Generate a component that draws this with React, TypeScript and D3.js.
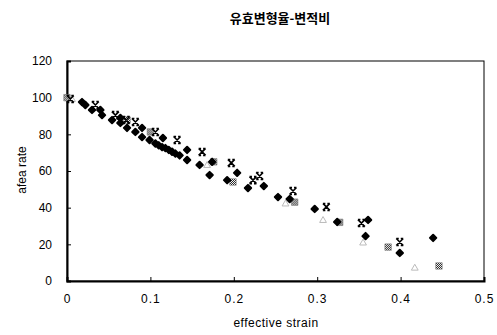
import { useEffect, useRef } from 'react'
import * as d3 from 'd3'

const TITLE = '유효변형율-변적비'
const X_LABEL = 'effective strain'
const Y_LABEL = 'afea rate'
const X_TICKS = [0, 0.1, 0.2, 0.3, 0.4, 0.5]
const Y_TICKS = [0, 20, 40, 60, 80, 100, 120]

// black filled blobs
const diamondPts: [number, number][] = [
  [0.018, 97.6], [0.022, 96], [0.03, 93.3], [0.04, 93.3], [0.042, 90.5],
  [0.054, 87.8], [0.064, 88.9], [0.064, 86.2], [0.072, 83.5], [0.082, 81.3],
  [0.09, 83.5], [0.09, 78.5], [0.099, 76.9], [0.106, 75], [0.11, 74],
  [0.114, 73], [0.118, 72.5], [0.122, 71.5], [0.126, 70.5], [0.13, 69.5],
  [0.135, 68.5], [0.115, 78], [0.144, 71.5], [0.144, 66], [0.159, 63.3],
  [0.171, 57.8], [0.174, 65], [0.192, 55], [0.204, 59], [0.217, 50.7],
  [0.236, 51.8], [0.253, 45.8], [0.267, 44.7], [0.297, 39.3], [0.324, 32.2],
  [0.361, 33.3], [0.358, 24.5], [0.399, 15.3], [0.439, 23.5]
]

// x markers
const crossPts: [number, number][] = [
  [0.004, 99.3], [0.034, 96], [0.058, 90.5], [0.071, 87.8], [0.082, 86.7],
  [0.106, 81.3], [0.132, 76.9], [0.162, 70.4], [0.197, 64.4], [0.223, 55],
  [0.231, 57.3], [0.271, 49.1], [0.311, 40.4], [0.353, 31.6], [0.399, 21.3]
]

// gray hatched squares
const hatchPts: [number, number][] = [
  [0, 100], [0.072, 87.8], [0.1, 81.3], [0.176, 65], [0.199, 54],
  [0.273, 43], [0.327, 32], [0.385, 18.5], [0.446, 8.2]
]

// faint light marks
const faintPts: [number, number][] = [
  [0.006, 99], [0.168, 63], [0.262, 42], [0.307, 33], [0.355, 20.7], [0.417, 7]
]

export default function App() {
  const ref = useRef<SVGSVGElement>(null)

  useEffect(() => {
    if (!ref.current) return
    const svg = d3.select(ref.current)
    svg.selectAll('*').remove()

    const W = 497
    const H = 335
    const margin = { top: 61, right: 13, bottom: 54, left: 67 }
    const width = W - margin.left - margin.right
    const height = H - margin.top - margin.bottom
    const font = 'Arial, "Liberation Sans", sans-serif'

    svg.append('rect').attr('width', W).attr('height', H).attr('fill', '#fff')

    const defs = svg.append('defs')
    const pat = defs.append('pattern')
      .attr('id', 'hatch')
      .attr('width', 2)
      .attr('height', 2)
      .attr('patternUnits', 'userSpaceOnUse')
    pat.append('rect').attr('width', 2).attr('height', 2).attr('fill', '#fff')
    pat.append('rect').attr('width', 1).attr('height', 1).attr('fill', '#222')
    pat.append('rect').attr('x', 1).attr('y', 1).attr('width', 1).attr('height', 1).attr('fill', '#222')

    const g = svg.append('g').attr('transform', `translate(${margin.left},${margin.top})`)

    const x = d3.scaleLinear().domain([0, 0.5]).range([0, width])
    const y = d3.scaleLinear().domain([0, 120]).range([height, 0])

    // frame
    g.append('rect')
      .attr('width', width)
      .attr('height', height)
      .attr('fill', 'none')
      .attr('stroke', '#000')
      .attr('stroke-width', 1)

    // y axis
    const yAxis = g.append('g')
      .call(d3.axisLeft(y).tickValues(Y_TICKS).tickSize(-4).tickPadding(15).tickFormat(d => String(d)))
    yAxis.selectAll('text').attr('font-size', '12px').attr('font-family', font).attr('fill', '#000')
    yAxis.select('.domain').attr('stroke-width', 2)

    // x axis
    const xAxis = g.append('g')
      .attr('transform', `translate(0,${height})`)
      .call(d3.axisBottom(x).tickValues(X_TICKS).tickSize(-4).tickPadding(13)
        .tickFormat(d => (d === 0 ? '0' : d3.format('.1f')(d as number))))
    xAxis.selectAll('text').attr('font-size', '12px').attr('font-family', font).attr('fill', '#000')
      .attr('letter-spacing', '1px')
    xAxis.select('.domain').attr('stroke-width', 2)

    // faint marks
    g.selectAll('.faint')
      .data(faintPts)
      .join('path')
      .attr('transform', d => `translate(${x(d[0])},${y(d[1])})`)
      .attr('d', d3.symbol(d3.symbolTriangle, 20)())
      .attr('fill', 'none')
      .attr('stroke', '#bbb')
      .attr('stroke-width', 1)

    // hatched squares
    g.selectAll('.hatch')
      .data(hatchPts)
      .join('path')
      .attr('transform', d => `translate(${x(d[0])},${y(d[1])})`)
      .attr('d', d3.symbol(d3.symbolSquare, 42)())
      .attr('fill', 'url(#hatch)')
      .attr('stroke', '#666')
      .attr('stroke-width', 0.5)

    // black blobs
    g.selectAll('.dia')
      .data(diamondPts)
      .join('path')
      .attr('transform', d => `translate(${x(d[0])},${y(d[1])})`)
      .attr('d', d3.symbol(d3.symbolDiamond2, 26)())
      .attr('fill', '#000')
      .attr('stroke', '#000')
      .attr('stroke-width', 2)
      .attr('stroke-linejoin', 'round')

    // x markers
    const crossPath = 'M-3.5,-3.5L3.5,3.5M3.5,-3.5L-3.5,3.5M-3.5,-3.5L-1,-3.5M1,-3.5L3.5,-3.5M-3.5,3.5L-1,3.5M1,3.5L3.5,3.5'
    g.selectAll('.cross')
      .data(crossPts)
      .join('path')
      .attr('transform', d => `translate(${x(d[0])},${y(d[1])})`)
      .attr('d', crossPath)
      .attr('fill', 'none')
      .attr('stroke', '#000')
      .attr('stroke-width', 1.6)

    // title
    svg.append('text')
      .attr('x', 280)
      .attr('y', 23)
      .attr('text-anchor', 'middle')
      .attr('font-size', '13px')
      .attr('font-weight', 'bold')
      .attr('font-family', '"Noto Sans CJK KR", sans-serif')
      .text(TITLE)

    // x label
    svg.append('text')
      .attr('x', 276)
      .attr('y', 327)
      .attr('text-anchor', 'middle')
      .attr('font-size', '12px')
      .attr('font-family', font)
      .attr('letter-spacing', '0.5px')
      .text(X_LABEL)

    // y label
    svg.append('text')
      .attr('transform', `translate(26,170) rotate(-90)`)
      .attr('text-anchor', 'middle')
      .attr('font-size', '12px')
      .attr('font-family', font)
      .text(Y_LABEL)
  }, [])

  return (
    <svg
      ref={ref}
      width={497}
      height={335}
      style={{ position: 'absolute', left: 0, top: 0, display: 'block' }}
    />
  )
}
